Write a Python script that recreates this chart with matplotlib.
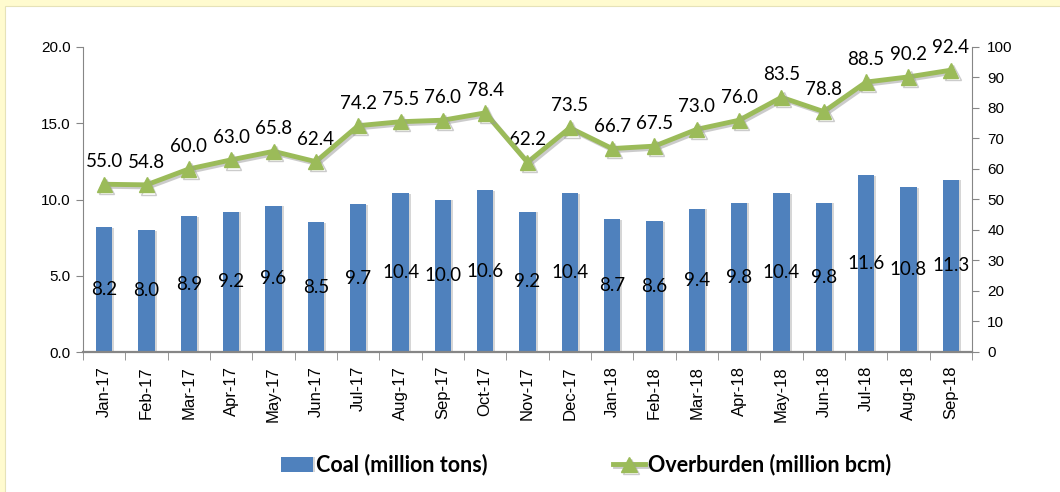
import numpy as np
import matplotlib
matplotlib.use("Agg")
import matplotlib.pyplot as plt
import matplotlib.patheffects as pe
from matplotlib.patches import Rectangle

months = ["Jan-17", "Feb-17", "Mar-17", "Apr-17", "May-17", "Jun-17", "Jul-17",
          "Aug-17", "Sep-17", "Oct-17", "Nov-17", "Dec-17", "Jan-18", "Feb-18",
          "Mar-18", "Apr-18", "May-18", "Jun-18", "Jul-18", "Aug-18", "Sep-18"]
coal = [8.2, 8.0, 8.9, 9.2, 9.6, 8.5, 9.7, 10.4, 10.0, 10.6, 9.2, 10.4,
        8.7, 8.6, 9.4, 9.8, 10.4, 9.8, 11.6, 10.8, 11.3]
overburden = [55.0, 54.8, 60.0, 63.0, 65.8, 62.4, 74.2, 75.5, 76.0, 78.4, 62.2,
              73.5, 66.7, 67.5, 73.0, 76.0, 83.5, 78.8, 88.5, 90.2, 92.4]

bar_color = "#4F81BD"
line_color = "#9BBB59"
spine_color = "#868686"

fig = plt.figure(figsize=(10.6, 4.92), dpi=100)
fig.patch.set_facecolor("#FFFBCF")
# white panel inside the yellow frame (yellow only shows top and left)
fig.patches.append(Rectangle((5 / 1060, -0.1), 1.1, 1.1 - 6 / 492, transform=fig.transFigure,
                             facecolor="white", edgecolor="#E6E2B8", linewidth=0.8, zorder=-10))

ax = fig.add_axes([83 / 1060, 1 - 352 / 492, (972 - 83) / 1060, (352 - 47) / 492])
ax.set_facecolor("none")
ax2 = ax.twinx()

x = np.arange(len(months))

# bars on the left axis
bars = ax.bar(x, coal, width=0.38, color=bar_color, zorder=2,
              path_effects=[pe.SimplePatchShadow(offset=(1.5, -0.5), shadow_rgbFace="#BBBBBB", alpha=0.6),
                            pe.Normal()])
for xi, v in zip(x, coal):
    ax.text(xi, v / 2, f"{v:.1f}", ha="center", va="center", fontsize=13.5,
            family="Lato", color="black", zorder=3)

ax.set_ylim(0, 20)
ax.set_yticks([0, 5, 10, 15, 20])
ax.set_yticklabels([f"{t:.1f}" for t in [0, 5, 10, 15, 20]], fontsize=11, family="Liberation Sans")
ax.set_xlim(-0.5, len(months) - 0.5)
ax.set_xticks(x)
ax.set_xticklabels(months, rotation=90, fontsize=12, family="Liberation Sans")
ax.tick_params(axis="x", length=0, pad=10)
ax.set_xticks(np.arange(-0.5, len(months)), minor=True)
ax.tick_params(axis="x", which="minor", length=6, color=spine_color, direction="out")
ax.tick_params(axis="y", length=5, color=spine_color, direction="out", pad=4)

# overburden line on the right axis
ax2.plot(x, overburden, color=line_color, linewidth=3.5, marker="^", markersize=11,
         zorder=4, path_effects=[pe.SimpleLineShadow(offset=(1.5, -1.5), shadow_color="#999999", alpha=0.5),
                                 pe.Normal()])
for xi, v in zip(x, overburden):
    ax2.annotate(f"{v:.1f}", (xi, v), xytext=(0, 10), textcoords="offset points",
                 ha="center", va="bottom", fontsize=13.5, family="Lato")

ax2.set_ylim(0, 100)
ax2.set_yticks(range(0, 101, 10))
ax2.set_yticklabels([str(t) for t in range(0, 101, 10)], fontsize=11, family="Liberation Sans")
ax2.tick_params(axis="y", length=5, color=spine_color, direction="out", pad=6)

for a in (ax, ax2):
    a.spines["top"].set_visible(False)
    for s in ("left", "right", "bottom"):
        a.spines[s].set_color(spine_color)
ax.spines["right"].set_visible(False)
ax2.spines["left"].set_visible(False)
ax2.spines["bottom"].set_visible(False)
ax.spines["bottom"].set_linewidth(1.6)

handles = [bars, ax2.lines[0]]
fig.legend(handles, ["Coal (million tons)", "Overburden (million bcm)"],
           loc="center", bbox_to_anchor=(0.553, 0.055), ncol=2, frameon=False,
           columnspacing=5.8, handlelength=1.5, handletextpad=0.15,
           prop={"family": "Lato", "weight": "bold", "size": 15.5})

fig.savefig("out.png", dpi=100, facecolor=fig.get_facecolor())
